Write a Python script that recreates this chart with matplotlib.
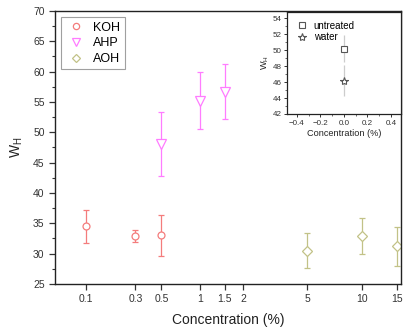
import numpy as np
import matplotlib
matplotlib.use("Agg")
import matplotlib.pyplot as plt
from matplotlib.lines import Line2D
from matplotlib.ticker import MultipleLocator, FixedLocator, FixedFormatter

plt.rcParams['font.family'] = ['Liberation Sans', 'DejaVu Sans']

# data
koh_x = [0.1, 0.3, 0.5]
koh_y = [34.5, 32.9, 33.0]
koh_err = [2.7, 1.0, 3.4]

ahp_x = [0.5, 1.0, 1.5]
ahp_y = [48.1, 55.2, 56.7]
ahp_err = [5.3, 4.7, 4.5]

aoh_x = [5, 10, 15]
aoh_y = [30.5, 32.9, 31.2]
aoh_err = [2.85, 3.0, 3.2]

ctrl_names = ['untreated', 'water']
ctrl_y = [50.2, 46.2]
ctrl_err = [1.7, 2.0]

xticks = [0.1, 0.3, 0.5, 1, 1.5, 2, 5, 10, 15]
xtick_labels = ['0.1', '0.3', '0.5', '1', '1.5', '2', '5', '10', '15']

# the concentration axis is compressed like a power scale
p = 0.15
def fwd(x):
    return np.sign(x) * np.abs(x) ** p
def inv(x):
    return np.sign(x) * np.abs(x) ** (1 / p)

fig = plt.figure(figsize=(4.03, 3.29), dpi=100)
ax = fig.add_axes([0.1365, 0.1368, 0.8585, 0.8298])

styles = [
    ('KOH', koh_x, koh_y, koh_err, 'o', '#f47c7c', 5),
    ('AHP', ahp_x, ahp_y, ahp_err, 'v', '#ff7cff', 6.5),
    ('AOH', aoh_x, aoh_y, aoh_err, 'D', '#c2c287', 5),
]
handles = []
for name, x, y, e, m, c, ms in styles:
    ax.errorbar(x, y, yerr=e, fmt=m, color=c, mfc='white', mec=c, ms=ms,
                mew=0.9, elinewidth=0.9, capsize=2.3, capthick=0.9)
    handles.append(Line2D([], [], ls='none', marker=m, mfc='white', mec=c,
                          ms=ms - 0.5, mew=0.9, label=name))

ax.set_xscale('function', functions=(fwd, inv))
ax.set_xlim(0.046, 15.7)
ax.set_ylim(25, 70)
ax.xaxis.set_major_locator(FixedLocator(xticks))
ax.xaxis.set_major_formatter(FixedFormatter(xtick_labels))
ax.xaxis.set_minor_locator(FixedLocator([]))
ax.yaxis.set_major_locator(MultipleLocator(5))
ax.yaxis.set_minor_locator(MultipleLocator(2.5))
ax.tick_params(axis='both', which='major', direction='out', length=4, width=0.9,
               labelsize=7.5, colors='#333333', top=False, right=False)
ax.tick_params(axis='y', which='minor', direction='out', length=2, width=0.8, color='#333333')
for s in ax.spines.values():
    s.set_linewidth(1.0)
    s.set_color('#222222')

ax.set_xlabel('Concentration (%)', fontsize=10, color='#222222', labelpad=6)
ax.set_ylabel('W$_\\mathregular{H}$', fontsize=10, color='#222222', labelpad=6)

leg = ax.legend(handles=handles, loc='upper left', fontsize=9, frameon=True,
                fancybox=False, edgecolor='#888888', handletextpad=0.6,
                borderpad=0.35, labelspacing=0.3, handlelength=1.6,
                bbox_to_anchor=(0.0, 1.0))
leg.get_frame().set_linewidth(0.8)

# inset with the controls
ins = fig.add_axes([0.713, 0.6535, 0.282, 0.3100])
ctrl_markers = ['s', '*']
ctrl_ms = [4.5, 6]
ins_handles = []
for name, y, e, m, ms in zip(ctrl_names, ctrl_y, ctrl_err, ctrl_markers, ctrl_ms):
    ins.errorbar([0], [y], yerr=[e], fmt=m, color='#cccccc', mfc='white',
                 mec='#555555', ms=ms, mew=0.8, elinewidth=0.9, capsize=0)
    ins_handles.append(Line2D([], [], ls='none', marker=m, mfc='white',
                              mec='#555555', ms=ms, mew=0.8, label=name))
ins.set_xlim(-0.48, 0.485)
ins.set_ylim(42, 54.8)
ins.set_xticks([-0.4, -0.2, 0.0, 0.2, 0.4])
ins.xaxis.set_minor_locator(MultipleLocator(0.1))
ins.yaxis.set_major_locator(MultipleLocator(2))
ins.yaxis.set_minor_locator(MultipleLocator(1))
ins.tick_params(axis='both', which='major', direction='out', length=2.5, width=0.7,
                labelsize=5.8, colors='#333333', pad=1.5)
ins.tick_params(axis='both', which='minor', direction='out', length=1.5, width=0.6,
                color='#555555')
for s in ins.spines.values():
    s.set_linewidth(0.9)
    s.set_color('#222222')
ins.set_xlabel('Concentration (%)', fontsize=6.6, color='#222222', labelpad=2)
ins.set_ylabel('W$_\\mathregular{H}$', fontsize=6.6, color='#222222', labelpad=1)
ins.legend(handles=ins_handles, loc='upper left', fontsize=7, frameon=False,
           handletextpad=0.6, labelspacing=0.15, handlelength=1.2,
           borderpad=0.4, borderaxespad=0.5)

fig.savefig('out.png', dpi=100)
